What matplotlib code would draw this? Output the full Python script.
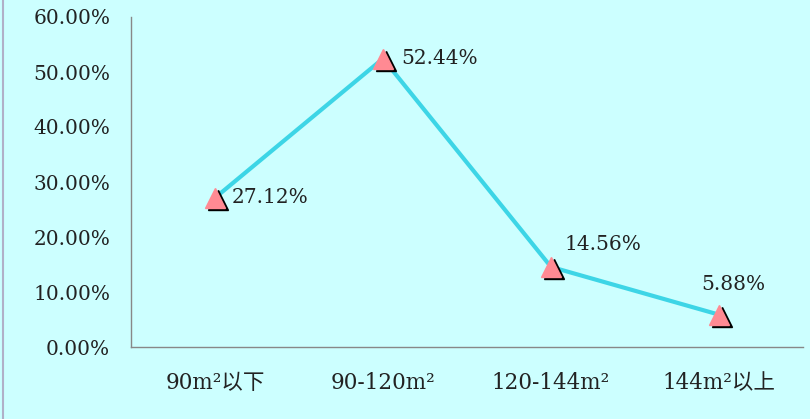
import matplotlib
matplotlib.use("Agg")
import matplotlib.pyplot as plt
import matplotlib.transforms as mtransforms
from matplotlib.lines import Line2D

plt.rcParams['font.family'] = ['DejaVu Serif', 'Noto Sans CJK SC', 'DejaVu Sans']

# ── Data ──────────────────────────────────────────────────────────────
categories = ["90m²以下", "90-120m²", "120-144m²", "144m²以上"]
shares = [27.12, 52.44, 14.56, 5.88]
y_ticks = [0, 10, 20, 30, 40, 50, 60]

bg = "#ccffff"
line_color = "#3dd5e6"
marker_color = "#ff8a93"
text_color = "#222222"

fig = plt.figure(figsize=(8.10, 4.19), dpi=100, facecolor=bg)
ax = fig.add_axes([131 / 810, 1 - 347 / 419, 672 / 810, 330 / 419])
ax.set_facecolor(bg)

x = list(range(len(categories)))
ax.plot(x, shares, color=line_color, linewidth=3, zorder=2)

# marker shadow (black, offset down-right) then pink triangle
shadow = mtransforms.offset_copy(ax.transData, fig=fig, x=3, y=-2.5, units="dots")
ax.plot(x, shares, linestyle="none", marker="^", markersize=15,
        color="black", transform=shadow, zorder=3)
ax.plot(x, shares, linestyle="none", marker="^", markersize=15,
        color=marker_color, zorder=4)

# data labels (offsets in points)
offsets = [(12, 0, "left", "center"), (13, 0, "left", "center"),
           (10, 16, "left", "center"), (-13, 22, "left", "center")]
for xi, v, (dx, dy, ha, va) in zip(x, shares, offsets):
    ax.annotate(f"{v:.2f}%", (xi, v), xytext=(dx, dy), textcoords="offset points",
                ha=ha, va=va, fontsize=14.5, color=text_color)

ax.set_xlim(-0.5, len(categories) - 0.5)
ax.set_ylim(0, 60)
ax.set_yticks(y_ticks)
ax.set_yticklabels([f"{t:.2f}%" for t in y_ticks], fontsize=14.5, color=text_color)
ax.set_xticks(x)
ax.set_xticklabels(categories, fontsize=15.5, color=text_color)
ax.tick_params(axis="both", length=0)
ax.tick_params(axis="y", pad=15)
ax.tick_params(axis="x", pad=18)

for side in ["top", "right"]:
    ax.spines[side].set_visible(False)
for side in ["left", "bottom"]:
    ax.spines[side].set_color("#888888")
    ax.spines[side].set_linewidth(1)

# thin border on the left edge
fig.add_artist(Line2D([3 / 810, 3 / 810], [0, 1], transform=fig.transFigure,
                      color="#b0b0c8", linewidth=1.5))

fig.savefig("out.png", dpi=100, facecolor=bg)
